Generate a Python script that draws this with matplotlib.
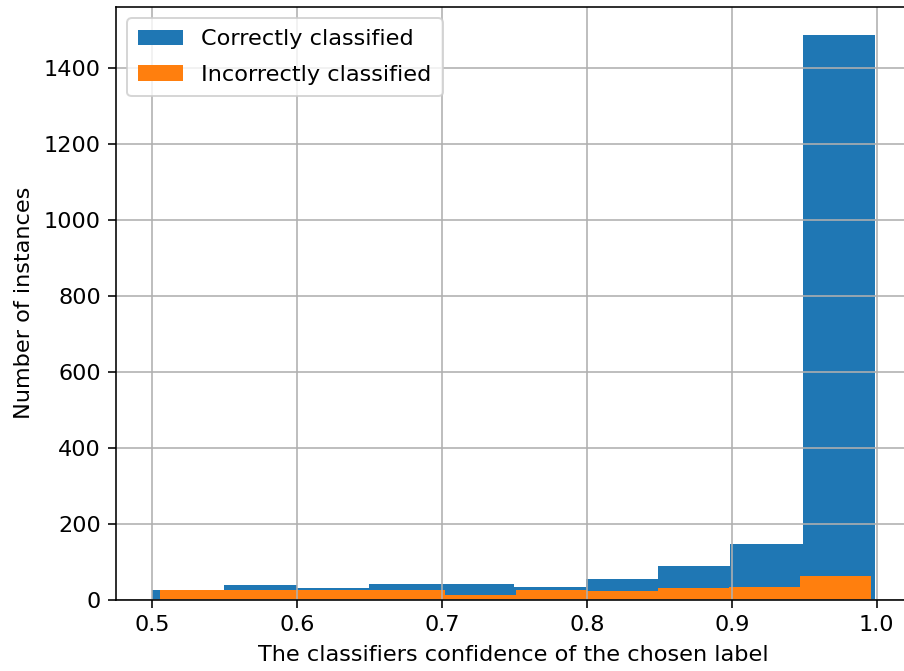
import matplotlib
matplotlib.use("Agg")
import matplotlib.pyplot as plt
import numpy as np

# bin ranges and counts
correct_range = (0.5, 0.9987)
correct_counts = [25, 38, 30, 42, 42, 33, 54, 88, 147, 1486]

incorrect_range = (0.5055, 0.9963)
incorrect_counts = [26, 26, 26, 26, 12, 26, 22, 30, 34, 63]

labels = ["Correctly classified", "Incorrectly classified"]

# reference looks rendered a touch larger than the default
plt.rcParams["font.size"] = 11.2
plt.rcParams["xtick.major.size"] = 3.8
plt.rcParams["ytick.major.size"] = 3.8
plt.rcParams["xtick.major.pad"] = 3.8
plt.rcParams["ytick.major.pad"] = 3.8
plt.rcParams["axes.labelpad"] = 5

fig = plt.figure(figsize=(904 / 144, 671 / 144), dpi=144)
ax = fig.add_axes([116 / 904, 1 - 599.5 / 671, 795 / 904, 592.5 / 671])

edges_c = np.linspace(correct_range[0], correct_range[1], len(correct_counts) + 1)
edges_i = np.linspace(incorrect_range[0], incorrect_range[1], len(incorrect_counts) + 1)

ax.hist(edges_c[:-1], bins=edges_c, weights=correct_counts, label=labels[0])
ax.hist(edges_i[:-1], bins=edges_i, weights=incorrect_counts, label=labels[1])

ax.grid(True)
ax.set_xlabel("The classifiers confidence of the chosen label")
ax.set_ylabel("Number of instances")
ax.legend(loc="upper left", labelspacing=0.7, borderpad=0.5)

fig.savefig("out.png", dpi=144)
